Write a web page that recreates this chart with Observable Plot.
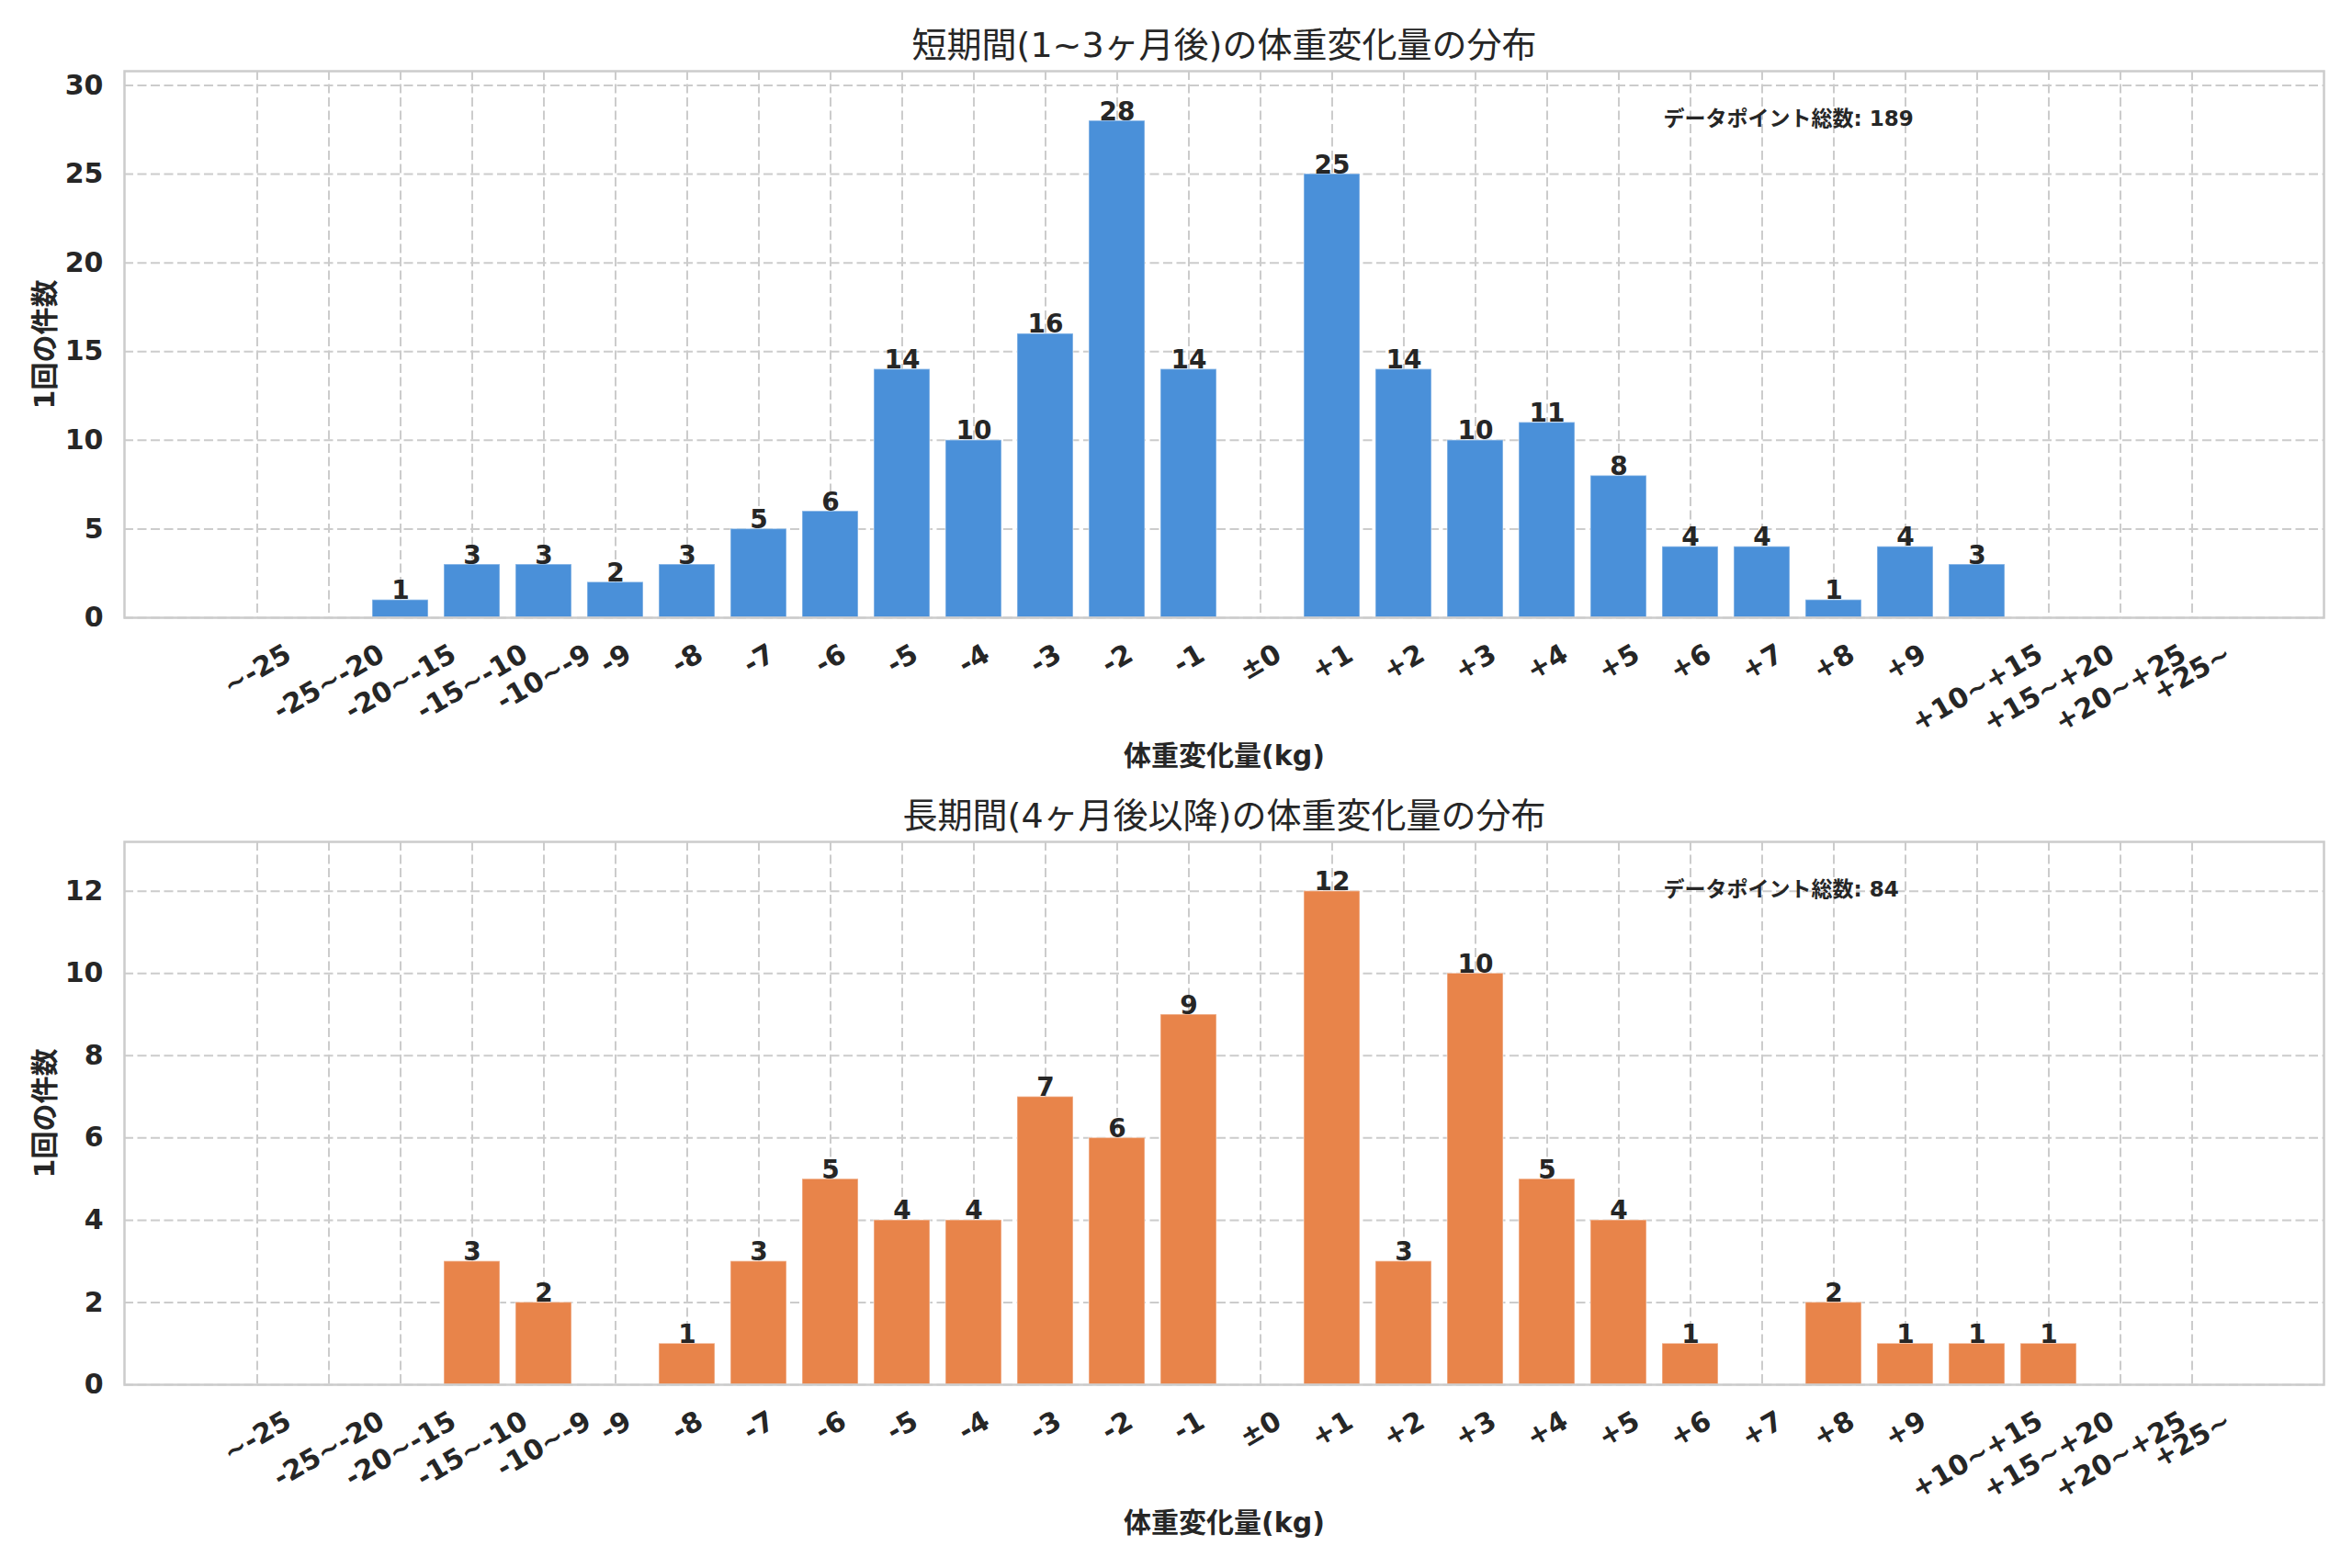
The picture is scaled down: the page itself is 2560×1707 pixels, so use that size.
<!DOCTYPE html>
<html><head><meta charset="utf-8">
<script src="https://cdn.jsdelivr.net/npm/d3@7"></script>
<script src="https://cdn.jsdelivr.net/npm/@observablehq/plot@0.6"></script>
<style>
html,body{margin:0;padding:0;background:#fff;}
#wrap{position:relative;width:2560px;height:1707px;overflow:hidden;background:#fff;color:#262626;
  font-family:"DejaVu Sans","Noto Sans CJK JP",sans-serif;}
#wrap svg{display:block;}
</style></head><body><div id="wrap"></div>
<script>
const categories = ["~-25","-25~-20","-20~-15","-15~-10","-10~-9","-9","-8","-7","-6","-5","-4","-3","-2","-1","±0",
  "+1","+2","+3","+4","+5","+6","+7","+8","+9","+10~+15","+15~+20","+20~+25","+25~"];
const shortTermCounts = [0,0,1,3,3,2,3,5,6,14,10,16,28,14,0,25,14,10,11,8,4,4,1,4,3,0,0,0];
const longTermCounts  = [0,0,0,3,2,0,1,3,5,4,4,7,6,9,0,12,3,10,5,4,1,0,2,1,1,1,0,0];
const yTicksTop = [0,5,10,15,20,25,30];
const yTicksBottom = [0,2,4,6,8,10,12];
const titleTop = "短期間(1~3ヶ月後)の体重変化量の分布";
const titleBottom = "長期間(4ヶ月後以降)の体重変化量の分布";
const xLabel = "体重変化量(kg)";
const yLabel = "1回の件数";
const totalLabel = "データポイント総数";
const colorTop = "#4A90D9";
const colorBottom = "#E8844A";

const FONT = '"DejaVu Sans","Noto Sans CJK JP",sans-serif';
const ctx = document.createElement("canvas").getContext("2d");
const XFS = 30;
ctx.font = `bold ${XFS}px "DejaVu Sans"`;

function makeChart({counts, color, title, yTicks, height, marginTop, marginBottom}) {
  const data = categories.map((c, i) => ({cat: c, value: counts[i]}));
  const total = d3.sum(counts);
  const gridStyle = {stroke: "#cccccc", strokeWidth: 2, strokeDasharray: "10,4.5"};
  const xLabels = categories.map(c => {
    const w = ctx.measureText(c).width;
    const dy = 22 + (w * 0.5 + XFS * 1.16 * 0.866) / 2;
    return Plot.text([c], {x: d => d, text: d => d, frameAnchor: "bottom", dy, rotate: -30,
      textAnchor: "middle", lineAnchor: "middle", fontSize: XFS, fontWeight: "bold", fill: "#262626"});
  });
  return Plot.plot({
    width: 2560, height, marginLeft: 135, marginRight: 31, marginTop, marginBottom,
    style: {fontFamily: FONT, background: "white", color: "#262626", overflow: "visible"},
    x: {domain: categories, paddingInner: 0.22, paddingOuter: 1.40, axis: null},
    y: {domain: [0, d3.max(counts) * 1.1]},
    marks: [
      Plot.ruleX(categories, {x: d => d, ...gridStyle}),
      Plot.ruleY(yTicks, {y: d => d, ...gridStyle}),
      Plot.barY(data, {x: "cat", y: "value", fill: color, stroke: "white", strokeOpacity: 0.4, strokeWidth: 1.5}),
      Plot.text(data.filter(d => d.value > 0), {x: "cat", y: "value", text: d => String(d.value),
        lineAnchor: "bottom", dy: -1, fontSize: 28, fontWeight: "bold", fill: "#262626"}),
      Plot.frame({stroke: "#cccccc", strokeWidth: 2.5}),
      Plot.axisY(yTicks, {tickSize: 0, tickPadding: 23, fontSize: 30, fontWeight: "bold", fill: "#262626", label: null}),
      ...xLabels,
      Plot.text([title], {text: d => d, frameAnchor: "top", dy: -28, lineAnchor: "middle", fontSize: 38, fill: "#262626"}),
      Plot.text([xLabel], {text: d => d, frameAnchor: "bottom", dy: 151, lineAnchor: "middle", fontSize: 30, fontWeight: "bold", fill: "#262626"}),
      Plot.text([yLabel], {text: d => d, frameAnchor: "left", dx: -86, rotate: -90, lineAnchor: "middle", textAnchor: "middle", fontSize: 30, fontWeight: "bold", fill: "#262626"}),
      Plot.text([`${totalLabel}: ${total}`], {text: d => d, frameAnchor: "top-left", dx: 1675, dy: 52, textAnchor: "start", lineAnchor: "middle", fontSize: 23, fontWeight: "bold", fill: "#262626"})
    ]
  });
}

const wrap = document.getElementById("wrap");
wrap.appendChild(makeChart({counts: shortTermCounts, color: colorTop, title: titleTop, yTicks: yTicksTop,
  height: 853, marginTop: 77, marginBottom: 181}));
wrap.appendChild(makeChart({counts: longTermCounts, color: colorBottom, title: titleBottom, yTicks: yTicksBottom,
  height: 854, marginTop: 63, marginBottom: 200}));
</script></body></html>
